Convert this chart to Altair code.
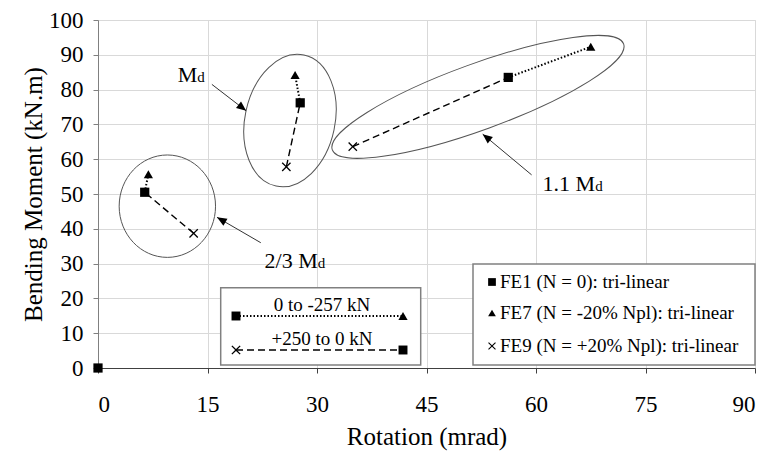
import altair as alt
import pandas as pd

# ---------------- data ----------------
fe1_x = [0.0, 6.4, 27.7, 56.2]
fe1_y = [0.0, 50.5, 76.2, 83.5]
fe7_x = [6.9, 27.0, 67.5]
fe7_y = [55.7, 84.2, 92.3]
fe9_x = [13.1, 25.8, 34.9]
fe9_y = [38.7, 57.8, 63.6]
series_names = ["FE1 (N = 0): tri-linear",
                "FE7 (N = -20% Npl): tri-linear",
                "FE9 (N = +20% Npl): tri-linear"]
group_names = ["2/3 Md", "Md", "1.1 Md"]
x_ticks = [0, 15, 30, 45, 60, 75, 90]
y_ticks = [0, 10, 20, 30, 40, 50, 60, 70, 80, 90, 100]
line_legend_labels = ["0 to -257 kN", "+250 to 0 kN"]

# annotation labels (text, anchor x, anchor y in data units)
ann_text = ["M", "2/3 M", "1.1 M"]
ann_x = [13.6, 30.1, 68.1]
ann_y = [82.2, 28.7, 50.9]
# arrows: start and tip in data units, heading angle on screen (deg)
arr_x = [15.6, 22.3, 59.4]
arr_y = [81.5, 36.0, 55.5]
arr_x2 = [20.3, 16.3, 52.7]
arr_y2 = [73.9, 43.3, 67.2]
arr_angle = [38, 210, 219]
# ellipses: centre in data units
ell_x = [9.5, 26.3, 52.05]
ell_y = [46.5, 71.1, 77.9]

FONT = "Liberation Serif"
X_PATH = ("M -1 -0.8 L -0.8 -1 L 0 -0.2 L 0.8 -1 L 1 -0.8 L 0.2 0 L 1 0.8 "
          "L 0.8 1 L 0 0.2 L -0.8 1 L -1 0.8 L -0.2 0 Z")
ARROW_PATH = "M 0 0 L -1 -0.42 L -1 0.42 Z"
SHAPES = ["square", "triangle-up", X_PATH]


def ellipse_path(rx, ry):
    k = 0.5523
    f = lambda v: f"{v:.4f}"
    return (f"M {f(rx)} 0 C {f(rx)} {f(k*ry)} {f(k*rx)} {f(ry)} 0 {f(ry)} "
            f"C {f(-k*rx)} {f(ry)} {f(-rx)} {f(k*ry)} {f(-rx)} 0 "
            f"C {f(-rx)} {f(-k*ry)} {f(-k*rx)} {f(-ry)} 0 {f(-ry)} "
            f"C {f(k*rx)} {f(-ry)} {f(rx)} {f(-k*ry)} {f(rx)} 0 Z")


# ---------------- tables ----------------
pts = pd.DataFrame({
    "x": fe1_x + fe7_x + fe9_x,
    "y": fe1_y + fe7_y + fe9_y,
    "series": [series_names[0]] * len(fe1_x) + [series_names[1]] * len(fe7_x)
              + [series_names[2]] * len(fe9_x),
})

dot_rows, dash_rows = [], []
for i, g in enumerate(group_names):
    dot_rows += [{"g": g, "o": 0, "x": fe1_x[i + 1], "y": fe1_y[i + 1]},
                 {"g": g, "o": 1, "x": fe7_x[i], "y": fe7_y[i]}]
    dash_rows += [{"g": g, "o": 0, "x": fe9_x[i], "y": fe9_y[i]},
                  {"g": g, "o": 1, "x": fe1_x[i + 1], "y": fe1_y[i + 1]}]
dots = pd.DataFrame(dot_rows)
dashes = pd.DataFrame(dash_rows)

arr_rows = []
for i in range(len(arr_x)):
    arr_rows += [{"g": i, "o": 0, "x": arr_x[i], "y": arr_y[i]},
                 {"g": i, "o": 1, "x": arr_x2[i], "y": arr_y2[i]}]
arrows = pd.DataFrame(arr_rows)

xs = alt.Scale(domain=[0, 90], nice=False, zero=False)
ys = alt.Scale(domain=[0, 100], nice=False, zero=False)

axis_style = dict(grid=True, gridColor="#d9d9d9",
                  labelFont=FONT, labelFontSize=23, labelColor="black",
                  titleFont=FONT, titleFontSize=25, titleFontWeight="normal",
                  titleColor="black", tickSize=5, labelOverlap=False)
X = alt.X("x:Q", scale=xs, axis=alt.Axis(values=x_ticks, title="Rotation (mrad)",
                                          domainColor="#404040", tickColor="#404040",
                                          labelPadding=20, titlePadding=8, **axis_style))
Y = alt.Y("y:Q", scale=ys, axis=alt.Axis(values=y_ticks, title="Bending Moment (kN.m)",
                                          domainColor="#808080", tickColor="#808080",
                                          labelPadding=10, titlePadding=2, **axis_style))

# ellipses
ell_specs = [(ellipse_path(0.941, 1.0), 10486, 0),
             (ellipse_path(0.672, 1.0), 17956, 12),
             (ellipse_path(1.0, 0.213), 96100, 340)]
ell_layers = []
for i, (p, s, a) in enumerate(ell_specs):
    d = pd.DataFrame({"x": [ell_x[i]], "y": [ell_y[i]]})
    ell_layers.append(
        alt.Chart(d).mark_point(shape=p, size=s, angle=a, filled=False,
                                color="#555555", strokeWidth=1, opacity=1)
        .encode(x=X, y=Y))

dotted = alt.Chart(dots).mark_line(color="black", strokeWidth=2, strokeDash=[1.5, 2]).encode(
    x=X, y=Y, detail="g:N", order="o:Q")
dashed = alt.Chart(dashes).mark_line(color="black", strokeWidth=1.4, strokeDash=[7, 4]).encode(
    x=X, y=Y, detail="g:N", order="o:Q")

points = alt.Chart(pts).mark_point(filled=True, opacity=1, size=85, color="black").encode(
    x=X, y=Y,
    shape=alt.Shape("series:N", scale=alt.Scale(domain=series_names, range=SHAPES),
                    legend=None),
)

# annotations
ann = pd.DataFrame({"t": ann_text, "x": ann_x, "y": ann_y})
ann_m = alt.Chart(ann).mark_text(font=FONT, fontSize=22, align="right",
                                 baseline="alphabetic", color="black").encode(
    x=X, y=Y, text="t:N")
ann_d = alt.Chart(ann).mark_text(font=FONT, fontSize=15, align="left",
                                 baseline="alphabetic", color="black", text="d").encode(
    x=X, y=Y)
arr_lines = alt.Chart(arrows).mark_line(color="#333333", strokeWidth=1).encode(
    x=X, y=Y, detail="g:N", order="o:Q")
tips = pd.DataFrame({"x": arr_x2, "y": arr_y2, "a": arr_angle})
arr_heads = alt.Chart(tips).mark_point(shape=ARROW_PATH, size=380, filled=True,
                                       color="black", opacity=1).encode(
    x=X, y=Y, angle=alt.Angle("a:Q", scale=None))

one = pd.DataFrame({"a": [0]})


def sym(shape, px, py, size=80):
    return alt.Chart(one).mark_point(shape=shape, size=size, filled=True, color="black",
                                     opacity=1).encode(x=alt.value(px), y=alt.value(py))


def label(text, px, py, align="center"):
    return alt.Chart(one).mark_text(font=FONT, fontSize=19, text=text, align=align,
                                    baseline="middle", color="black").encode(
        x=alt.value(px), y=alt.value(py))


# line-style legend box (pixel placement inside the plot area)
lg_box = alt.Chart(one).mark_rect(fill="white", stroke="#808080", strokeWidth=1.5).encode(
    x=alt.value(122.7), x2=alt.value(322.7), y=alt.value(267.7), y2=alt.value(345))
lg_l1 = alt.Chart(one).mark_rule(color="black", strokeWidth=2, strokeDash=[1.5, 2]).encode(
    x=alt.value(138), x2=alt.value(305), y=alt.value(296))
lg_l2 = alt.Chart(one).mark_rule(color="black", strokeWidth=1.4, strokeDash=[7, 4]).encode(
    x=alt.value(138), x2=alt.value(305), y=alt.value(330))
left_legend = [lg_box, lg_l1, lg_l2,
               label(line_legend_labels[0], 224, 285), label(line_legend_labels[1], 224, 319),
               sym("square", 138, 296), sym("triangle-up", 305, 296, 85),
               sym(X_PATH, 138, 330, 85), sym("square", 305, 330)]

# series key box
key_box = alt.Chart(one).mark_rect(fill="white", stroke="#808080", strokeWidth=1.5).encode(
    x=alt.value(375), x2=alt.value(657), y=alt.value(244), y2=alt.value(345))
key_rows = [262, 293, 326]
right_legend = [key_box]
for shp, name, ry in zip(SHAPES, series_names, key_rows):
    right_legend.append(sym(shp, 394, ry, 60))
    right_legend.append(label(name, 402, ry, "left"))

chart = alt.layer(
    *ell_layers, dashed, dotted, points, arr_lines, arr_heads, ann_m, ann_d,
    *left_legend, *right_legend,
).properties(
    width=657, height=348,
    autosize=alt.AutoSizeParams(type="none"),
    padding={"left": 98, "top": 20, "right": 12, "bottom": 84},
    background="white",
)

chart.save("out.html", embed_options={"renderer": "svg", "actions": False})
